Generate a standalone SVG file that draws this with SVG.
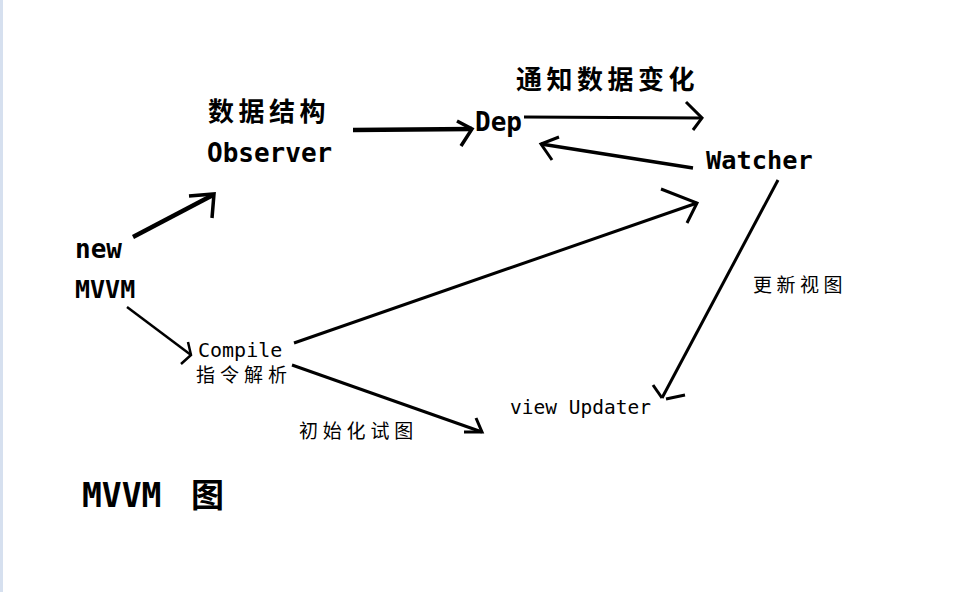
<svg xmlns="http://www.w3.org/2000/svg" width="979" height="592" viewBox="0 0 979 592">
<style>
.bl{font-family:"DejaVu Sans Mono","Liberation Mono",monospace;font-weight:bold;fill:#000}
.rl{font-family:"DejaVu Sans Mono","Liberation Mono",monospace;fill:#000}
.bc{font-family:"Noto Sans CJK SC","Noto Sans",sans-serif;font-weight:bold;fill:#000}
.rc{font-family:"Noto Sans CJK SC","Noto Sans",sans-serif;fill:#000}
.ln{fill:none;stroke:#000;stroke-linecap:butt;stroke-linejoin:miter}
</style>
<rect x="0" y="0" width="979" height="592" fill="#fff"/>
<rect x="0" y="0" width="3" height="592" fill="#d6e0ef"/>

<g id="node-observer">
<text class="bc" x="208" y="121" font-size="26" letter-spacing="4.5">数据结构</text>
<text class="bl" x="207" y="162" font-size="26">Observer</text>
</g>
<g id="node-dep">
<text class="bl" x="475" y="131" font-size="26">Dep</text>
</g>
<g id="node-watcher">
<text class="bl" x="706" y="169" font-size="25.3">Watcher</text>
</g>
<g id="node-new-mvvm">
<text class="bl" x="75" y="258" font-size="26">new</text>
<text class="bl" x="75" y="298" font-size="25">MVVM</text>
</g>
<g id="node-compile">
<text class="rl" x="198" y="357" font-size="20">Compile</text>
<text class="rc" x="196" y="382" font-size="19" letter-spacing="5">指令解析</text>
</g>
<g id="node-view-updater">
<text class="rl" x="510" y="414" font-size="19.5">view Updater</text>
</g>
<g id="labels">
<text class="bc" x="516" y="89" font-size="26" letter-spacing="4.5">通知数据变化</text>
<text class="rc" x="753" y="292" font-size="19" letter-spacing="4.5">更新视图</text>
<text class="rc" x="299" y="438" font-size="19" letter-spacing="4.8">初始化试图</text>
<text class="bl" x="82" y="507" font-size="33">MVVM <tspan class="bc" x="191" y="507">图</tspan></text>
</g>

<g id="connectors">
<!-- new -> Observer -->
<path class="ln" stroke-width="4.5" d="M133,237 L213,195"/>
<path class="ln" stroke-width="3.5" d="M189,196 L214,194 L212,218"/>
<!-- Observer -> Dep -->
<path class="ln" stroke-width="4.7" d="M353,130 L472,129"/>
<path class="ln" stroke-width="3.5" d="M457,121 L472,129 L461,146"/>
<!-- Dep -> Watcher (notify) -->
<path class="ln" stroke-width="3" d="M524,117 L702,118"/>
<path class="ln" stroke-width="3" d="M686,102 L702,118 L693,130"/>
<!-- Watcher -> Dep -->
<path class="ln" stroke-width="3.5" d="M693,168 L541,144"/>
<path class="ln" stroke-width="3" d="M559,137 L541,144 L552,160"/>
<!-- new -> Compile -->
<path class="ln" stroke-width="2.5" d="M127,307 L191,355"/>
<path class="ln" stroke-width="2.5" d="M188,342 L191,355 L181,364"/>
<!-- Compile -> Watcher -->
<path class="ln" stroke-width="3" d="M294,343 L697,203"/>
<path class="ln" stroke-width="3" d="M661,189 L697,203 L687,223"/>
<!-- Compile -> view Updater -->
<path class="ln" stroke-width="3" d="M292,365 L482,432"/>
<path class="ln" stroke-width="3" d="M476,418 L482,432 L464,432"/>
<!-- Watcher -> view Updater -->
<path class="ln" stroke-width="3" d="M778,180 L662,398"/>
<path class="ln" stroke-width="3" d="M653,385 L662,398"/>
<path class="ln" stroke-width="3" d="M666,399 L685,395"/>
</g>
</svg>
